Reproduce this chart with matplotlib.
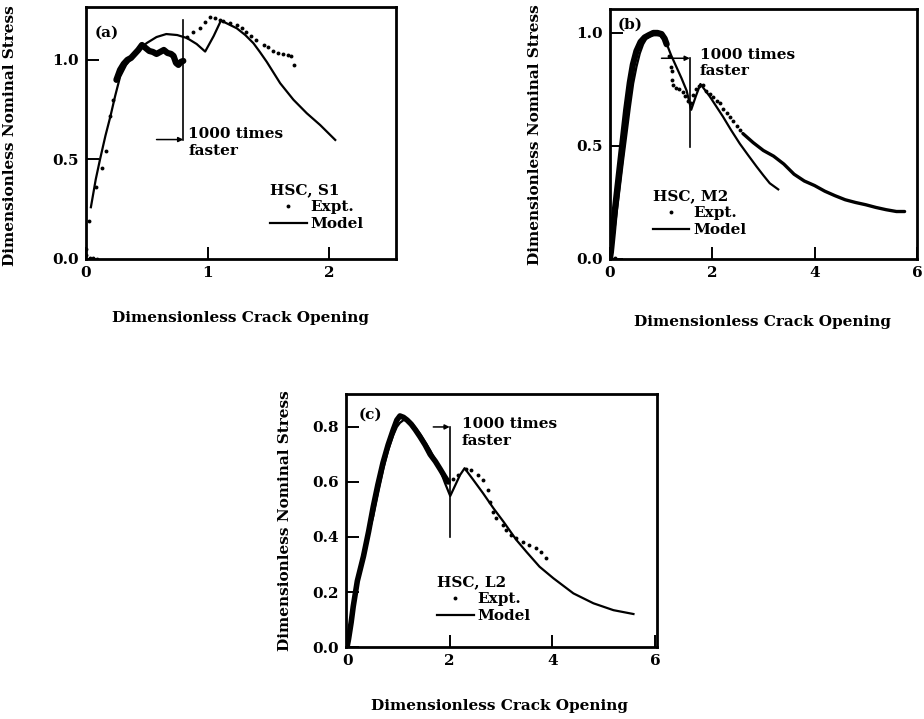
"""
Three-panel cohesive-crack comparison (HSC specimens S1, M2, L2):
dimensionless nominal stress vs dimensionless crack opening,
experimental points against the model curve.
"""

import matplotlib
matplotlib.use("Agg")
import matplotlib.pyplot as plt

plt.rcParams["font.family"] = ["DejaVu Serif"]
plt.rcParams["font.weight"] = "bold"

# ---------------- panel (a): HSC, S1 ----------------
a_model_x = [0.04, 0.08, 0.115, 0.16, 0.20, 0.24, 0.28, 0.33, 0.39, 0.45, 0.50, 0.58,
             0.66, 0.75, 0.83, 0.91, 0.98, 1.05, 1.11, 1.24, 1.31, 1.377, 1.43, 1.487,
             1.597, 1.706, 1.816, 1.926, 2.05]
a_model_y = [0.26, 0.40, 0.50, 0.62, 0.715, 0.82, 0.915, 0.975, 1.02, 1.06, 1.085, 1.115,
             1.13, 1.125, 1.11, 1.08, 1.042, 1.12, 1.198, 1.159, 1.125, 1.084, 1.04, 0.99,
             0.883, 0.80, 0.732, 0.673, 0.598]
a_expt_x = [0.00, 0.00, 0.03, 0.06, 0.09, 0.027, 0.085, 0.129, 0.165, 0.198, 0.22,
            0.83, 0.88, 0.94, 0.98, 1.02, 1.06, 1.10, 1.13, 1.185, 1.24, 1.28, 1.32,
            1.36, 1.40, 1.46, 1.50, 1.54, 1.58, 1.62, 1.66, 1.69, 1.71]
a_expt_y = [0.05, 0.02, 0.005, 0.003, 0.002, 0.19, 0.36, 0.456, 0.544, 0.72, 0.80,
            1.117, 1.142, 1.159, 1.19, 1.218, 1.21, 1.20, 1.195, 1.185, 1.175, 1.16, 1.14,
            1.12, 1.10, 1.075, 1.065, 1.045, 1.035, 1.03, 1.025, 1.02, 0.975]
# dense run of test points before the loading-rate change
a_band_x = [0.25, 0.28, 0.31, 0.34, 0.37, 0.40, 0.43, 0.46, 0.49, 0.52, 0.55, 0.58,
            0.61, 0.64, 0.67, 0.70, 0.72, 0.74, 0.76, 0.78, 0.80]
a_band_y = [0.90, 0.95, 0.98, 1.00, 1.01, 1.03, 1.05, 1.075, 1.06, 1.045, 1.04, 1.03,
            1.04, 1.05, 1.035, 1.03, 1.02, 0.985, 0.975, 0.99, 0.995]

# ---------------- panel (b): HSC, M2 ----------------
b_model_x = [0.065, 0.13, 0.195, 0.26, 0.326, 0.39, 0.456, 0.52, 0.586, 0.65, 0.716,
             0.78, 0.846, 0.91, 0.977, 1.04, 1.107, 1.20, 1.30, 1.40, 1.50, 1.59,
             1.68, 1.77, 1.95, 2.08, 2.21, 2.37, 2.54, 2.70, 2.87, 3.00, 3.125, 3.29]
b_model_y = [0.084, 0.20, 0.32, 0.44, 0.556, 0.67, 0.777, 0.85, 0.91, 0.95, 0.976,
             0.985, 0.99, 0.99, 0.99, 0.975, 0.954, 0.90, 0.85, 0.80, 0.745, 0.66,
             0.72, 0.774, 0.72, 0.675, 0.63, 0.57, 0.51, 0.46, 0.408, 0.37, 0.335, 0.308]
b_expt_x = [0.0, 0.05, 0.10, 1.15, 1.20, 1.21, 1.22, 1.23, 1.30, 1.36, 1.42, 1.47,
            1.53, 1.58, 1.63, 1.69, 1.75, 1.82, 1.88, 1.95, 2.02, 2.09, 2.15, 2.22,
            2.28, 2.34, 2.41, 2.48, 2.55]
b_expt_y = [0.0, 0.0, 0.005, 0.90, 0.85, 0.83, 0.79, 0.77, 0.755, 0.75, 0.74, 0.72,
            0.70, 0.69, 0.725, 0.75, 0.765, 0.77, 0.745, 0.73, 0.715, 0.70, 0.69, 0.665,
            0.645, 0.63, 0.61, 0.59, 0.57]
b_band_x = [0.0, 0.02, 0.06, 0.10, 0.15, 0.20, 0.26, 0.32, 0.39, 0.45, 0.52, 0.60,
            0.68, 0.76, 0.85, 0.93, 1.01, 1.07, 1.11]
b_band_y = [0.0, 0.03, 0.12, 0.22, 0.32, 0.42, 0.54, 0.66, 0.78, 0.86, 0.92, 0.96,
            0.98, 0.99, 1.0, 1.0, 0.995, 0.975, 0.95]
b_tail_x = [2.6, 2.8, 3.0, 3.2, 3.4, 3.6, 3.8, 4.0, 4.2, 4.4, 4.6, 4.8, 5.0, 5.2,
            5.4, 5.6, 5.76]
b_tail_y = [0.555, 0.515, 0.48, 0.455, 0.42, 0.375, 0.345, 0.325, 0.30, 0.28, 0.262,
            0.25, 0.24, 0.228, 0.218, 0.21, 0.21]

# ---------------- panel (c): HSC, L2 ----------------
c_model_x = [0.22, 0.30, 0.40, 0.51, 0.61, 0.71, 0.80, 0.90, 0.97, 1.03, 1.10, 1.17,
             1.23, 1.30, 1.42, 1.52, 1.62, 1.72, 1.81, 1.91, 2.01, 2.10, 2.20, 2.29,
             2.45, 2.65, 2.85, 3.05, 3.30, 3.50, 3.75, 4.02, 4.41, 4.80, 5.19, 5.58]
c_model_y = [0.26, 0.33, 0.40, 0.475, 0.565, 0.65, 0.715, 0.77, 0.80, 0.815, 0.825,
             0.825, 0.82, 0.805, 0.775, 0.745, 0.715, 0.68, 0.645, 0.595, 0.549, 0.585,
             0.625, 0.65, 0.61, 0.559, 0.505, 0.455, 0.389, 0.345, 0.292, 0.25, 0.195,
             0.159, 0.134, 0.12]
c_expt_x = [2.07, 2.16, 2.32, 2.42, 2.55, 2.65, 2.74, 2.78, 2.84, 2.91, 3.03, 3.10,
            3.20, 3.30, 3.42, 3.55, 3.68, 3.78, 3.88]
c_expt_y = [0.61, 0.625, 0.647, 0.645, 0.625, 0.607, 0.571, 0.528, 0.492, 0.468, 0.444,
            0.425, 0.407, 0.395, 0.383, 0.371, 0.359, 0.347, 0.322]
c_band_x = [0.0, 0.03, 0.08, 0.12, 0.20, 0.32, 0.42, 0.51, 0.60, 0.70, 0.80, 0.90,
            0.97, 1.03, 1.10, 1.17, 1.25, 1.33, 1.42, 1.52, 1.62, 1.72, 1.82, 1.90, 1.97]
c_band_y = [0.0, 0.03, 0.09, 0.147, 0.24, 0.33, 0.42, 0.51, 0.59, 0.67, 0.735, 0.79,
            0.825, 0.84, 0.835, 0.825, 0.81, 0.79, 0.765, 0.735, 0.70, 0.675, 0.645,
            0.62, 0.60]

XLABEL = "Dimensionless Crack Opening"
YLABEL = "Dimensionless Nominal Stress"
FS = 11


def style_axes(ax, xlim, ylim, xticks, yticks, xfmt, yfmt):
    ax.set_xlim(*xlim)
    ax.set_ylim(*ylim)
    ax.set_xticks(xticks)
    ax.set_xticklabels([xfmt.format(v) for v in xticks])
    ax.set_yticks(yticks)
    ax.set_yticklabels([yfmt.format(v) for v in yticks])
    ax.tick_params(direction="in", length=9, width=1.4, labelsize=FS, pad=5,
                   top=False, right=False)
    for sp in ax.spines.values():
        sp.set_linewidth(2.0)


def draw_data(ax, mx, my, ex, ey, bands, title, leg_xy):
    for bx, by, lw in bands:
        ax.plot(bx, by, "-", color="k", lw=lw, solid_capstyle="round",
                solid_joinstyle="round")
    expt, = ax.plot(ex, ey, "o", color="k", ms=2.8, mew=0, label="Expt.")
    model, = ax.plot(mx, my, "-", color="k", lw=1.6, label="Model")
    ax.legend(handles=[expt, model], title=title, loc="upper left",
              bbox_to_anchor=leg_xy, frameon=False, borderpad=0, borderaxespad=0,
              handlelength=2.4, handletextpad=0.25, labelspacing=0.2,
              alignment="left", fontsize=FS,
              title_fontproperties={"size": FS, "weight": "bold"})


def rate_change(ax, x_left, x_v, y_h, y_end, tx, ty):
    # bracket marking where the loading rate was raised
    ax.plot([x_v, x_v], [y_h, y_end], color="k", lw=1.2)
    ax.annotate("", xy=(x_v, y_h), xytext=(x_left, y_h),
                arrowprops=dict(arrowstyle="-|>", color="k", lw=1.1,
                                mutation_scale=7, shrinkA=0, shrinkB=0))
    ax.text(tx, ty, "1000 times\nfaster", fontsize=FS, fontweight="bold",
            ha="left", va="center", multialignment="left")


def labels(ax, tag, tag_xy, xl_xy, yl_xy):
    ax.text(*tag_xy, tag, transform=ax.transAxes, fontsize=FS, fontweight="bold",
            ha="left", va="center")
    ax.set_xlabel(XLABEL, fontsize=FS, fontweight="bold", va="center")
    ax.set_ylabel(YLABEL, fontsize=FS, fontweight="bold", va="center")
    ax.xaxis.set_label_coords(*xl_xy)
    ax.yaxis.set_label_coords(*yl_xy)


fig = plt.figure(figsize=(9.24, 7.19), dpi=100)

# (a)
ax = fig.add_axes([0.0931, 0.6398, 0.3355, 0.3505])
draw_data(ax, a_model_x, a_model_y, a_expt_x, a_expt_y,
          [(a_band_x, a_band_y, 4.5)], "HSC, S1", (0.594, 0.30))
rate_change(ax, 0.58, 0.80, 0.60, 1.20, 0.84, 0.585)
style_axes(ax, (0, 2.55), (0, 1.266), [0, 1, 2], [0.0, 0.5, 1.0], "{:g}", "{:.1f}")
labels(ax, "(a)", (0.029, 0.90), (0.498, -0.234), (-0.245, 0.49))

# (b)
ax = fig.add_axes([0.660, 0.6398, 0.3323, 0.3477])
draw_data(ax, b_model_x, b_model_y, b_expt_x, b_expt_y,
          [(b_band_x, b_band_y, 4.5), (b_tail_x, b_tail_y, 2.4)], "HSC, M2", (0.14, 0.28))
rate_change(ax, 1.01, 1.5625, 0.888, 0.497, 1.76, 0.868)
style_axes(ax, (0, 6.0), (0, 1.106), [0, 2, 4, 6], [0.0, 0.5, 1.0], "{:g}", "{:.1f}")
labels(ax, "(b)", (0.026, 0.936), (0.498, -0.252), (-0.244, 0.496))

# (c)
ax = fig.add_axes([0.3745, 0.1001, 0.3366, 0.352])
draw_data(ax, c_model_x, c_model_y, c_expt_x, c_expt_y,
          [(c_band_x, c_band_y, 4.0)], "HSC, L2", (0.292, 0.285))
rate_change(ax, 1.68, 2.0, 0.80, 0.40, 2.23, 0.78)
style_axes(ax, (-0.02, 6.04), (0, 0.92), [0, 2, 4, 6], [0.0, 0.2, 0.4, 0.6, 0.8],
           "{:g}", "{:.1f}")
labels(ax, "(c)", (0.039, 0.917), (0.495, -0.233), (-0.196, 0.498))

fig.savefig("out.png", dpi=100)
